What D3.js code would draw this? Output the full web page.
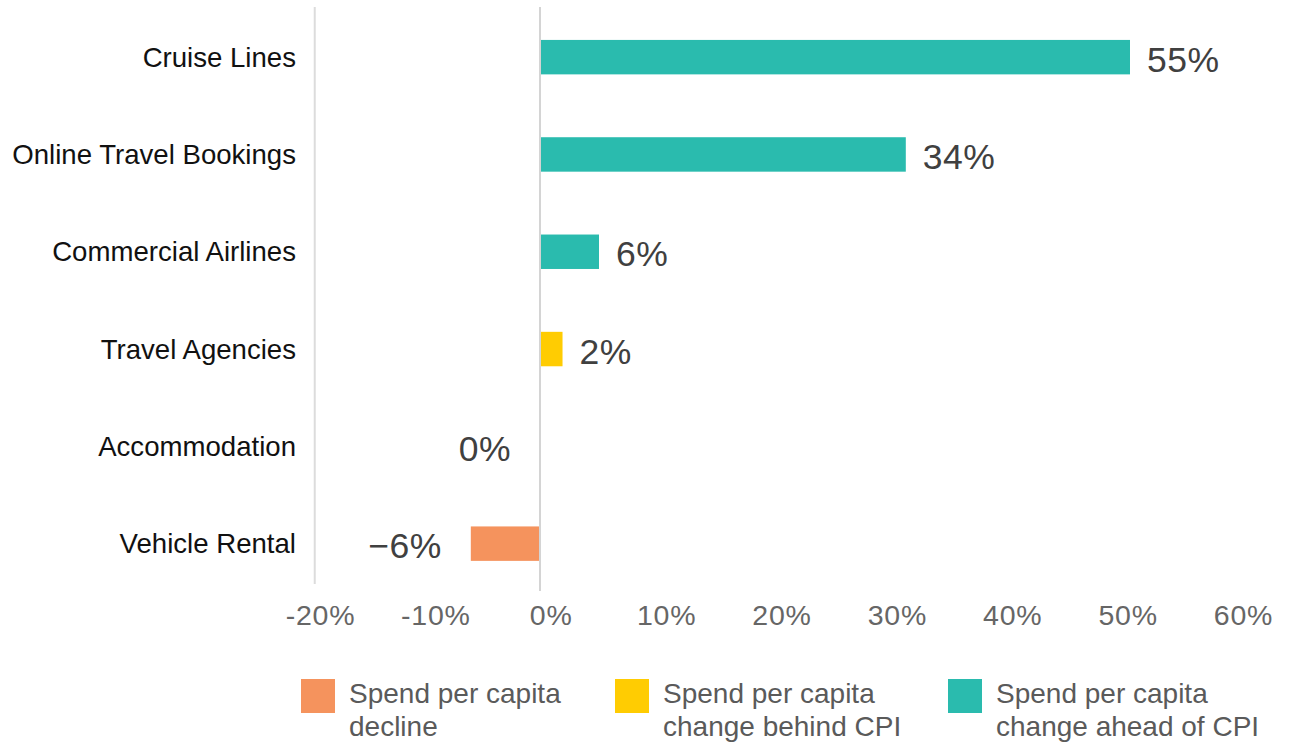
<!DOCTYPE html>
<html>
<head>
<meta charset="utf-8">
<script src="https://cdn.jsdelivr.net/npm/d3@7"></script>
<style>
  html, body { margin: 0; padding: 0; background: #ffffff; }
  svg { display: block; font-family: "Liberation Sans", Arial, sans-serif; }
</style>
</head>
<body>
<svg id="chart" width="1301" height="747"></svg>
<script>
// ---- data ----
const categories = ["Cruise Lines", "Online Travel Bookings", "Commercial Airlines", "Travel Agencies", "Accommodation", "Vehicle Rental"];
const values = [55, 34.1, 5.5, 2.1, 0, -6.45];          // % change in spend per capita
const groups = ["ahead", "ahead", "ahead", "behind", "behind", "decline"];
const tickValues = [-20, -10, 0, 10, 20, 30, 40, 50, 60];
const tickLabels = ["-20%", "-10%", "0%", "10%", "20%", "30%", "40%", "50%", "60%"];
const legendKeys = ["decline", "behind", "ahead"];
const legendLabels = [["Spend per capita", "decline"], ["Spend per capita", "change behind CPI"], ["Spend per capita", "change ahead of CPI"]];
const plotBounds = [-21, 60];

const colors = d3.scaleOrdinal().domain(legendKeys).range(["#F5935D", "#FFCC02", "#2ABBAE"]);

const svg = d3.select("#chart");

// scales
const x = d3.scaleLinear().domain([0, 55]).range([540, 1130]);
const xTicks = d3.scaleLinear().domain([-20, 60]).range([320, 1243]);
const y = d3.scaleBand().domain(categories).range([8.5, 592.3]).paddingInner(0.646).paddingOuter(0.323);

// frame line at left edge of plot
svg.append("line")
  .attr("x1", x(plotBounds[0])).attr("x2", x(plotBounds[0]))
  .attr("y1", 7).attr("y2", 584)
  .attr("stroke", "#dcdcdc").attr("stroke-width", 2);

// bars
svg.append("g").selectAll("rect")
  .data(values)
  .join("rect")
  .attr("x", d => x(Math.min(0, d)))
  .attr("width", d => Math.abs(x(d) - x(0)))
  .attr("y", (d, i) => y(categories[i]))
  .attr("height", y.bandwidth())
  .attr("fill", (d, i) => colors(groups[i]));

// zero line
svg.append("line")
  .attr("x1", x(0)).attr("x2", x(0))
  .attr("y1", 7).attr("y2", 591)
  .attr("stroke", "#d4d4d4").attr("stroke-width", 2);

// category labels
svg.append("g").selectAll("text")
  .data(categories)
  .join("text")
  .attr("x", 296)
  .attr("y", d => y(d) + y.bandwidth() / 2 + 9.5)
  .attr("text-anchor", "end")
  .attr("font-size", 27.6)
  .attr("fill", "#111111")
  .text(d => d);

// value labels
const fmt = d3.format(".0f");
svg.append("g").selectAll("text")
  .data(values)
  .join("text")
  .attr("x", d => d > 0 ? x(d) + 17 : x(Math.min(d, 0)) - 29)
  .attr("y", (d, i) => y(categories[i]) + y.bandwidth() / 2 + 14.5)
  .attr("text-anchor", d => d > 0 ? "start" : "end")
  .attr("font-size", 35.5)
  .attr("letter-spacing", 0.5)
  .attr("fill", "#404040")
  .text(d => fmt(d) + "%");

// x axis labels
const axis = d3.axisBottom(xTicks)
  .tickValues(tickValues)
  .tickFormat((d, i) => tickLabels[i])
  .tickSize(0)
  .tickPadding(0);
const gAxis = svg.append("g").attr("transform", "translate(0,605)").call(axis);
gAxis.select(".domain").remove();
gAxis.selectAll("text")
  .attr("font-family", "Liberation Sans, Arial, sans-serif")
  .attr("font-size", 28.5)
  .attr("letter-spacing", 0.8)
  .attr("fill", "#666666");

// legend
const legendX = [301, 615, 948];
const lg = svg.append("g").selectAll("g")
  .data(legendKeys)
  .join("g")
  .attr("transform", (d, i) => `translate(${legendX[i]},679)`);
lg.append("rect")
  .attr("width", 34).attr("height", 34)
  .attr("fill", d => colors(d));
const lt = lg.append("text")
  .attr("x", 48)
  .attr("font-size", 28)
  .attr("fill", "#5a5a5a");
lt.selectAll("tspan")
  .data((d, i) => legendLabels[i])
  .join("tspan")
  .attr("x", 48)
  .attr("y", (d, j) => 24 + j * 33)
  .text(d => d);
</script>
</body>
</html>
